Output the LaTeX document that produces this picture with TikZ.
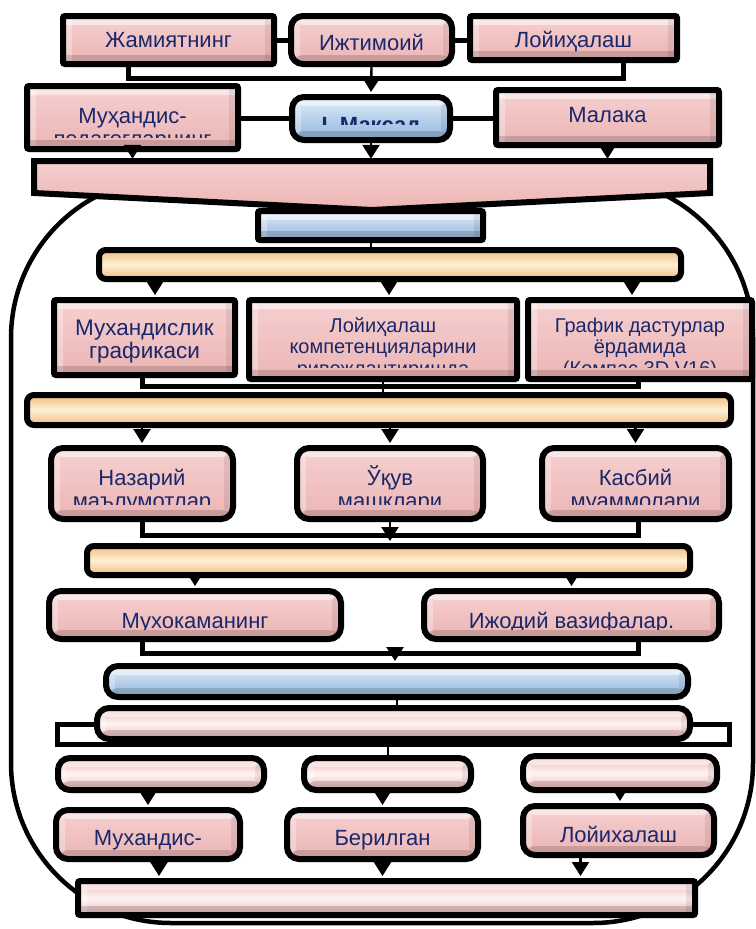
\documentclass[tikz,border=0pt]{standalone}
\usepackage{fontspec}
\setmainfont{Liberation Sans}
\usepackage{tikz}
\usetikzlibrary{arrows.meta,shadows}

\definecolor{ink}{RGB}{24,40,106}
\definecolor{pinklt}{RGB}{246,208,208}
\definecolor{pinkdk}{RGB}{236,180,180}
\definecolor{pinkhi}{RGB}{255,244,244}
\definecolor{bluelt}{RGB}{222,236,250}
\definecolor{bluedk}{RGB}{146,182,220}
\definecolor{orglt}{RGB}{254,240,212}
\definecolor{orgdk}{RGB}{240,188,126}

\newcommand\fbig{\fontsize{22}{23}\selectfont}
\newcommand\fmid{\fontsize{22.5}{23.5}\selectfont}
\newcommand\fsml{\fontsize{20}{21.5}\selectfont}

\newcommand\bevel{%
  \fill[white, opacity=.5] ([yshift=-3pt]path picture bounding box.north west)
    rectangle ([yshift=-9pt]path picture bounding box.north east);
  \fill[white, opacity=.3] ([xshift=3pt]path picture bounding box.south west)
    rectangle ([xshift=9pt]path picture bounding box.north west);
  \fill[black, opacity=.08] ([xshift=-3pt]path picture bounding box.south east)
    rectangle ([xshift=-9pt]path picture bounding box.north east);
  \fill[black, opacity=.15] ([yshift=3pt]path picture bounding box.south west)
    rectangle ([yshift=9pt]path picture bounding box.south east);}

\tikzset{
  box/.style={draw=black, line width=6pt, inner sep=0pt,
              drop shadow={shadow xshift=2pt, shadow yshift=-3pt, opacity=.25}},
  sqbox/.style={box, rounded corners=2pt},
  rdbox/.style={box, rounded corners=12pt},
  barbox/.style={box, rounded corners=7pt},
  pinkfill/.style={top color=pinklt, bottom color=pinkdk},
  pinkbar/.style={top color=pinkdk, bottom color=pinkdk, middle color=pinkhi},
  bluefill/.style={top color=bluelt, bottom color=bluedk},
  orgfill/.style={top color=orgdk, bottom color=orgdk, middle color=orglt},
  plain/.style={path picture={\bevel}},
  lbl/.style={anchor=base, align=center, inner sep=0pt, text=ink,
              draw=none, fill=none},
  say/.style n args={4}{path picture={\bevel
      \clip (path picture bounding box.north west)
        rectangle ([yshift=-#2]path picture bounding box.north east);
      \node[lbl, font=#3] at ([yshift=-#1]path picture bounding box.north) {#4};}},
  arr/.style={line width=2.4pt, shorten >=2pt, -{Triangle[width=17pt,length=14pt]}},
  link/.style={line width=2pt},
  bar/.style={line width=5pt}
}

\begin{document}
\begin{tikzpicture}[x=1pt, y=-1pt]
\useasboundingbox (0,0) rectangle (755,929);

\draw[line width=4.5pt, rounded corners=160pt] (11,178) rectangle (753,923);

% top rows
\draw (168.5,40)
  node[sqbox, pinkfill, minimum width=211pt, minimum height=48pt,
       say={31pt}{90pt}{\fbig}{Жамиятнинг}] (jam) {};
\draw (371.5,40)
  node[rdbox, pinkfill, minimum width=161pt, minimum height=48pt,
       say={34pt}{90pt}{\fbig}{Ижтимоий}] (ijt) {};
\draw (573.5,38)
  node[sqbox, pinkfill, minimum width=207pt, minimum height=44pt,
       say={31pt}{90pt}{\fbig}{Лойиҳалаш}] (loy) {};
\draw (132.5,117.5)
  node[sqbox, pinkfill, minimum width=211pt, minimum height=63pt,
       say={60pt}{51pt}{\fbig}{Муҳандис-\\педагогларнинг}] (muh) {};
\draw (371,118.5)
  node[rdbox, bluefill, minimum width=158pt, minimum height=43pt,
       say={35.5pt}{27pt}{\fbig\bfseries}{I. Мақсад}] (mak) {};
\draw (607.5,117.5)
  node[sqbox, pinkfill, minimum width=223pt, minimum height=55pt,
       say={32pt}{90pt}{\fbig}{Малака}] (mal) {};

\draw[bar] (jam.east) -- (ijt.west);
\draw[bar] (ijt.east) -- (ijt.east -| loy.west);
\draw[bar] ([xshift=-40pt]jam.south) -- ++(0,11) -| ([xshift=50pt]loy.south);
\draw[arr] (ijt.south) -- (mak.north);
\draw[bar] (mak.west) -- (mak.west -| muh.east);
\draw[bar] (mak.east) -- (mak.east -| mal.west);

% banner
\draw[box, pinkfill] (34,161) -- (710,161) -- (710,193) -- (372,210)
  -- (34,193) -- cycle;
\node[minimum width=676pt, minimum height=32pt, inner sep=0pt] (ban) at (372,177) {};
\draw[arr] (muh.south) -- (muh.south |- ban.north);
\draw[arr] (mak.south) -- (mak.south |- ban.north);
\draw[arr] (mal.south) -- (mal.south |- ban.north);

% inside the frame
\draw (370.5,225.5)
  node[sqbox, bluefill, plain, minimum width=225pt, minimum height=29pt] (mz) {};
\draw (390,264.5)
  node[barbox, orgfill, minimum width=582pt, minimum height=29pt] (or1) {};
\draw[link] (mz.south) -- (mz.south |- or1.north);

\draw (144.5,337.5)
  node[sqbox, pinkfill, minimum width=181pt, minimum height=75pt,
       say={58.5pt}{90pt}{\fmid}{Мухандислик\\графикаси}] (mg) {};
\draw (383,339.5)
  node[sqbox, pinkfill, minimum width=268pt, minimum height=79pt,
       say={75pt}{67pt}{\fsml}{Лойиҳалаш\\компетенцияларини\\ривожлантиришда}] (lk) {};
\draw (640,339.5)
  node[sqbox, pinkfill, minimum width=224pt, minimum height=79pt,
       say={75pt}{67pt}{\fsml}{График дастурлар\\ёрдамида\\(Компас 3D V16)}] (gd) {};
\coordinate (a31) at ([xshift=10.5pt]mg.north);
\coordinate (a32) at ([xshift=6pt]lk.north);
\coordinate (a33) at ([xshift=-8pt]gd.north);
\draw[arr] (a31 |- or1.south) -- (a31);
\draw[arr] (a32 |- or1.south) -- (a32);
\draw[arr] (a33 |- or1.south) -- (a33);

\draw (379,410)
  node[barbox, orgfill, minimum width=704pt, minimum height=30pt] (or2) {};
\draw[bar] ([xshift=-2.5pt]mg.south) -- ++(0,8) -| ([xshift=-2pt]gd.south);
\draw[link] (lk.south) -- (lk.south |- or2.north);

\draw (142,483.5)
  node[rdbox, pinkfill, minimum width=182pt, minimum height=71pt,
       say={60pt}{56pt}{\fbig}{Назарий\\маълумотлар}] (naz) {};
\draw (390,483.5)
  node[rdbox, pinkfill, minimum width=186pt, minimum height=71pt,
       say={60pt}{56pt}{\fbig}{Ўқув\\машқлари}] (uquv) {};
\draw (635.5,483.5)
  node[rdbox, pinkfill, minimum width=187pt, minimum height=71pt,
       say={60pt}{56pt}{\fbig}{Касбий\\муаммолари}] (kas) {};
\draw[arr] (naz.north |- or2.south) -- (naz.north);
\draw[arr] (uquv.north |- or2.south) -- (uquv.north);
\draw[arr] (kas.north |- or2.south) -- (kas.north);

\draw (388.5,560.5)
  node[barbox, orgfill, minimum width=603pt, minimum height=29pt] (or3) {};
\draw[bar] (naz.south) -- ++(0,13) -| ([xshift=2.5pt]kas.south);
\draw[arr] (uquv.south) -- (uquv.south |- or3.north);

\draw (195,615)
  node[rdbox, pinkfill, minimum width=292pt, minimum height=48pt,
       say={37pt}{38pt}{\fbig}{Мухокаманинг}] (muhok) {};
\draw (571.5,615)
  node[rdbox, pinkfill, minimum width=295pt, minimum height=48pt,
       say={37pt}{38pt}{\fbig}{Ижодий вазифалар.}] (ijod) {};
\draw[arr] (muhok.north |- or3.south) -- (muhok.north);
\draw[arr] (ijod.north |- or3.south) -- (ijod.north);

\draw (397,681.5)
  node[rdbox, bluefill, plain, minimum width=582pt, minimum height=31pt] (blu3) {};
\draw[bar] ([xshift=-53pt]muhok.south) -- ++(0,11) -| ([xshift=66.5pt]ijod.south);
\coordinate (j5) at (395,650);
\draw[arr] (j5) -- (j5 |- blu3.north);

\draw (393.5,734)
  node[draw=black, line width=5pt, minimum width=672pt, minimum height=20pt] (ring) {};
\draw (393.5,723.5)
  node[rdbox, pinkbar, plain, minimum width=593pt, minimum height=31pt] (pk) {};
\draw[link] (blu3.south) -- (blu3.south |- pk.north);

\draw (161,774)
  node[rdbox, pinkbar, plain, minimum width=206pt, minimum height=32pt] (r6a) {};
\draw (387.5,774)
  node[rdbox, pinkbar, plain, minimum width=167pt, minimum height=32pt] (r6b) {};
\draw (620,773)
  node[rdbox, pinkbar, plain, minimum width=194pt, minimum height=34pt] (r6c) {};
\draw[link] (r6b.north |- ring.south) -- (r6b.north);

\draw (148,834.5)
  node[rdbox, pinkfill, minimum width=184pt, minimum height=49pt,
       say={35pt}{90pt}{\fbig}{Мухандис-}] (m7a) {};
\draw (382.5,834.5)
  node[rdbox, pinkfill, minimum width=191pt, minimum height=49pt,
       say={35pt}{90pt}{\fbig}{Берилган}] (m7b) {};
\draw (618.5,830.5)
  node[rdbox, pinkfill, minimum width=191pt, minimum height=49pt,
       say={36pt}{90pt}{\fbig}{Лойихалаш}] (m7c) {};
\draw[arr] (m7a.north |- r6a.south) -- (m7a.north);
\draw[arr] (m7b.north |- r6b.south) -- (m7b.north);
\draw[arr] (r6c.south) -- (r6c.south |- m7c.north);

\draw (386.5,898)
  node[sqbox, pinkbar, plain, minimum width=617pt, minimum height=34pt] (btm) {};
\coordinate (a71) at ([xshift=11pt]m7a.south);
\coordinate (a73) at ([xshift=-38pt]m7c.south);
\draw[arr] (a71) -- (a71 |- btm.north);
\draw[arr] (m7b.south) -- (m7b.south |- btm.north);
\draw[arr] (a73) -- (a73 |- btm.north);
\end{tikzpicture}
\end{document}
